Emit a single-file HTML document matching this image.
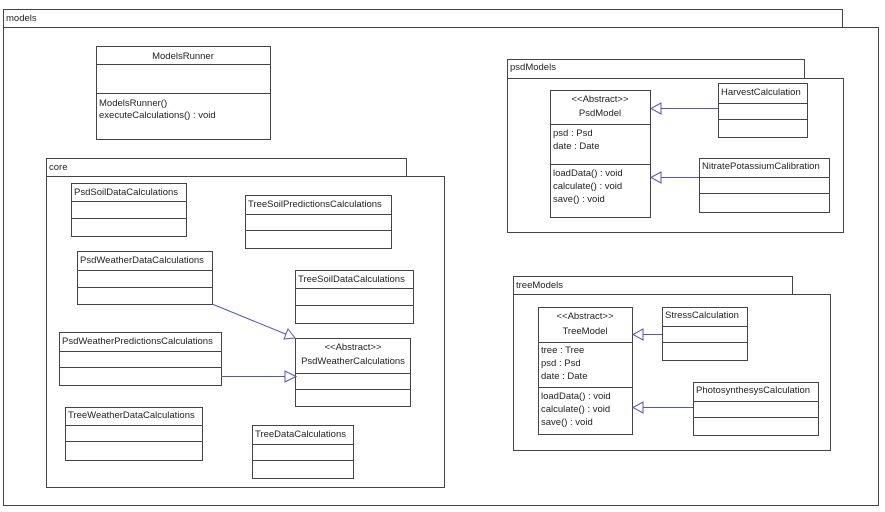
<!DOCTYPE html>
<html><head><meta charset="utf-8"><style>
html,body{margin:0;padding:0;background:#fff;width:885px;height:512px;overflow:hidden}
svg text{font-family:"Liberation Sans",Arial,sans-serif;font-size:9.5px;fill:#222}
</style></head><body>
<svg width="885" height="512" viewBox="0 0 885 512" xmlns="http://www.w3.org/2000/svg">
<g fill="#fff" stroke="#444" stroke-width="1">
<!-- models -->
<rect x="3.5" y="9.5" width="839" height="18"/>
<rect x="3.5" y="27.5" width="875" height="478"/>
<!-- ModelsRunner -->
<rect x="96.5" y="46.5" width="174" height="93"/>
<line x1="96.5" y1="64.5" x2="270.5" y2="64.5"/><line x1="96.5" y1="93.5" x2="270.5" y2="93.5"/>
<!-- core -->
<rect x="46.5" y="158.5" width="360" height="18"/>
<rect x="46.5" y="176.5" width="398" height="311"/>
<rect x="71.5" y="183.5" width="115" height="53"/><line x1="71.5" y1="201.5" x2="186.5" y2="201.5"/><line x1="71.5" y1="218.5" x2="186.5" y2="218.5"/>
<rect x="245.5" y="195.5" width="146" height="53"/><line x1="245.5" y1="214.5" x2="391.5" y2="214.5"/><line x1="245.5" y1="230.5" x2="391.5" y2="230.5"/>
<rect x="77.5" y="251.5" width="135" height="53"/><line x1="77.5" y1="270.5" x2="212.5" y2="270.5"/><line x1="77.5" y1="287.5" x2="212.5" y2="287.5"/>
<rect x="295.5" y="270.5" width="118" height="53"/><line x1="295.5" y1="288.5" x2="413.5" y2="288.5"/><line x1="295.5" y1="305.5" x2="413.5" y2="305.5"/>
<rect x="59.5" y="332.5" width="162" height="53"/><line x1="59.5" y1="351.5" x2="221.5" y2="351.5"/><line x1="59.5" y1="367.5" x2="221.5" y2="367.5"/>
<rect x="295.5" y="338.5" width="115" height="68"/><line x1="295.5" y1="373.5" x2="410.5" y2="373.5"/><line x1="295.5" y1="389.5" x2="410.5" y2="389.5"/>
<rect x="65.5" y="407.5" width="137" height="53"/><line x1="65.5" y1="425.5" x2="202.5" y2="425.5"/><line x1="65.5" y1="441.5" x2="202.5" y2="441.5"/>
<rect x="252.5" y="425.5" width="101" height="53"/><line x1="252.5" y1="444.5" x2="353.5" y2="444.5"/><line x1="252.5" y1="460.5" x2="353.5" y2="460.5"/>
<!-- psdModels -->
<rect x="507.5" y="59.5" width="297" height="19"/>
<rect x="507.5" y="78.5" width="336" height="154"/>
<rect x="550.5" y="90.5" width="100" height="127"/><line x1="550.5" y1="124.5" x2="650.5" y2="124.5"/><line x1="550.5" y1="164.5" x2="650.5" y2="164.5"/>
<rect x="718.5" y="83.5" width="89" height="54"/><line x1="718.5" y1="103.5" x2="807.5" y2="103.5"/><line x1="718.5" y1="119.5" x2="807.5" y2="119.5"/>
<rect x="699.5" y="158.5" width="130" height="54"/><line x1="699.5" y1="177.5" x2="829.5" y2="177.5"/><line x1="699.5" y1="193.5" x2="829.5" y2="193.5"/>
<!-- treeModels -->
<rect x="513.5" y="276.5" width="279" height="18"/>
<rect x="513.5" y="294.5" width="317" height="156"/>
<rect x="538.5" y="307.5" width="94" height="127"/><line x1="538.5" y1="342.5" x2="632.5" y2="342.5"/><line x1="538.5" y1="387.5" x2="632.5" y2="387.5"/>
<rect x="662.5" y="307.5" width="85" height="53"/><line x1="662.5" y1="326.5" x2="747.5" y2="326.5"/><line x1="662.5" y1="342.5" x2="747.5" y2="342.5"/>
<rect x="693.5" y="382.5" width="125" height="53"/><line x1="693.5" y1="401.5" x2="818.5" y2="401.5"/><line x1="693.5" y1="417.5" x2="818.5" y2="417.5"/>
</g>
<!-- arrows -->
<g fill="#fff" stroke="#5555bb" stroke-width="1">
<line x1="212" y1="304" x2="288" y2="335"/>
<polygon points="295,338 284,339 288,329"/>
<line x1="221" y1="376.5" x2="285" y2="376.5"/>
<polygon points="296,376.5 285,371 285,382"/>
<line x1="718" y1="108.5" x2="661" y2="108.5"/>
<polygon points="651,108.5 661,103 661,114"/>
<line x1="699" y1="177.5" x2="661" y2="177.5"/>
<polygon points="651,177.5 661,172 661,183"/>
<line x1="662" y1="334.5" x2="643" y2="334.5"/>
<polygon points="633,334.5 643,329 643,340"/>
<line x1="693" y1="407.5" x2="643" y2="407.5"/>
<polygon points="633,407.5 643,402 643,413"/>
</g>
<g>
<text x="6" y="21">models</text>
<text x="183" y="59" text-anchor="middle">ModelsRunner</text>
<text x="99" y="106">ModelsRunner()</text>
<text x="99" y="118">executeCalculations() : void</text>
<text x="49" y="170">core</text>
<text x="74" y="195">PsdSoilDataCalculations</text>
<text x="248" y="207">TreeSoilPredictionsCalculations</text>
<text x="80" y="263">PsdWeatherDataCalculations</text>
<text x="298" y="282">TreeSoilDataCalculations</text>
<text x="62" y="344">PsdWeatherPredictionsCalculations</text>
<text x="353" y="350" text-anchor="middle">&lt;&lt;Abstract&gt;&gt;</text>
<text x="353" y="364" text-anchor="middle">PsdWeatherCalculations</text>
<text x="68" y="418">TreeWeatherDataCalculations</text>
<text x="255" y="437">TreeDataCalculations</text>
<text x="510" y="70">psdModels</text>
<text x="600" y="102" text-anchor="middle">&lt;&lt;Abstract&gt;&gt;</text>
<text x="600" y="116" text-anchor="middle">PsdModel</text>
<text x="553" y="136">psd : Psd</text>
<text x="553" y="149">date : Date</text>
<text x="553" y="176">loadData() : void</text>
<text x="553" y="189">calculate() : void</text>
<text x="553" y="202">save() : void</text>
<text x="721" y="95">HarvestCalculation</text>
<text x="702" y="169">NitratePotassiumCalibration</text>
<text x="516" y="288">treeModels</text>
<text x="585" y="319" text-anchor="middle">&lt;&lt;Abstract&gt;&gt;</text>
<text x="585" y="334" text-anchor="middle">TreeModel</text>
<text x="541" y="353">tree : Tree</text>
<text x="541" y="366">psd : Psd</text>
<text x="541" y="379">date : Date</text>
<text x="541" y="399">loadData() : void</text>
<text x="541" y="412">calculate() : void</text>
<text x="541" y="425">save() : void</text>
<text x="665" y="318">StressCalculation</text>
<text x="696" y="393">PhotosynthesysCalculation</text>
</g>
</svg>
</body></html>
